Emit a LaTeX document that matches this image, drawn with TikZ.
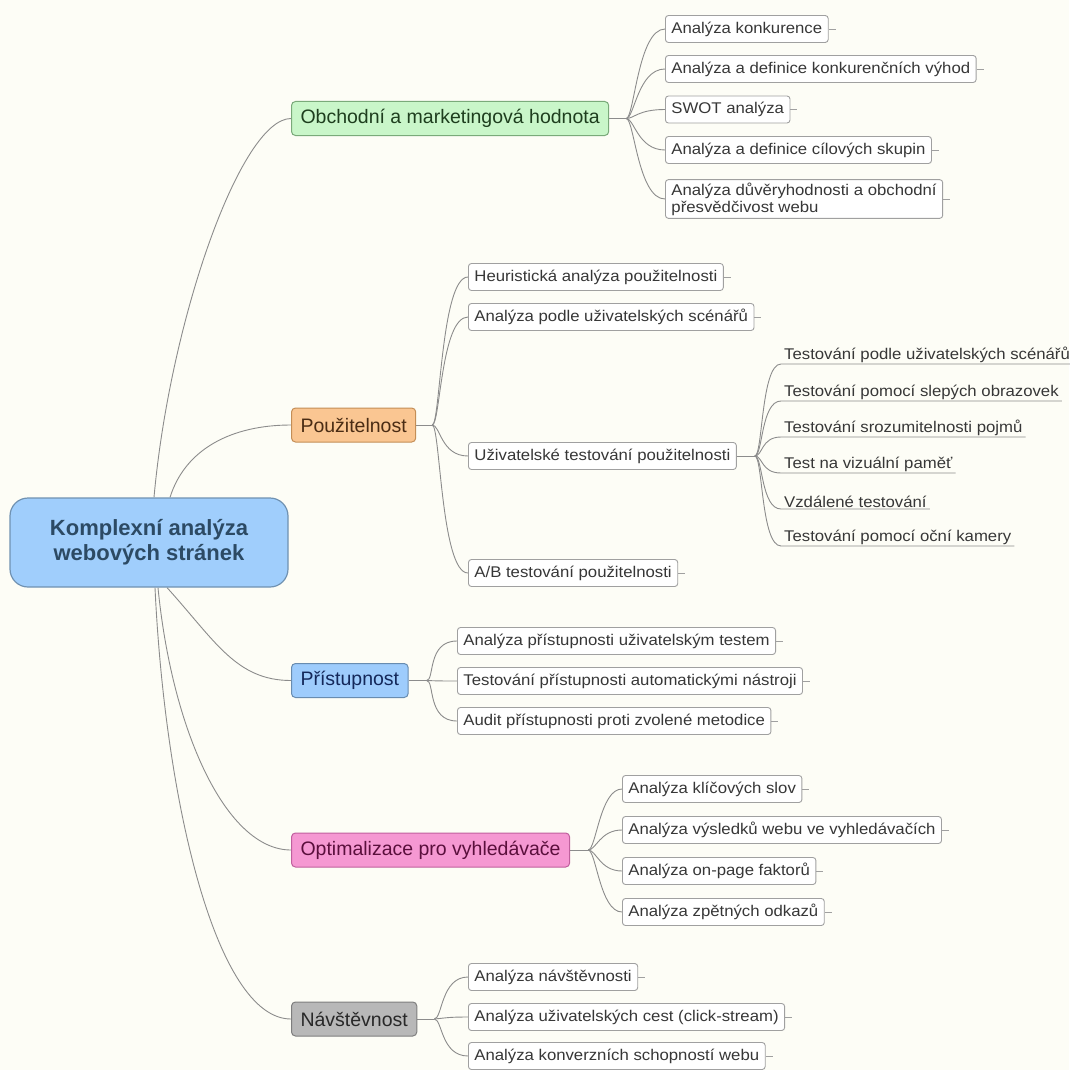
\documentclass[tikz,border=0pt]{standalone}
\usepackage{fontspec}
\setmainfont{Liberation Sans}
\newfontfamily\leaffont{Liberation Sans}[FakeStretch=1.08]
\usetikzlibrary{positioning}
\pgfdeclarelayer{background}
\pgfsetlayers{background,main}

\definecolor{paper}{RGB}{253,253,246}
\definecolor{linegray}{RGB}{140,140,140}
\definecolor{leafline}{RGB}{160,160,160}
\definecolor{leaftext}{RGB}{55,55,55}
\definecolor{rootfill}{RGB}{160,206,252}
\definecolor{rootline}{RGB}{112,146,178}
\definecolor{roottext}{RGB}{44,74,100}
\definecolor{greenfill}{RGB}{201,246,201}
\definecolor{greenline}{RGB}{122,170,122}
\definecolor{greentext}{RGB}{30,62,30}
\definecolor{orangefill}{RGB}{250,198,146}
\definecolor{orangeline}{RGB}{196,142,86}
\definecolor{orangetext}{RGB}{74,44,20}
\definecolor{bluefill}{RGB}{158,204,252}
\definecolor{blueline}{RGB}{104,140,176}
\definecolor{bluetext}{RGB}{20,40,90}
\definecolor{pinkfill}{RGB}{245,152,210}
\definecolor{pinkline}{RGB}{192,96,158}
\definecolor{pinktext}{RGB}{90,15,60}
\definecolor{grayfill}{RGB}{184,184,184}
\definecolor{grayline}{RGB}{126,126,126}
\definecolor{graytext}{RGB}{40,40,40}

\tikzset{
  link/.style={draw=linegray, line width=0.9pt},
  rootbox/.style={draw=rootline, fill=rootfill, text=roottext, line width=1.2pt,
    rounded corners=18pt, align=center, minimum width=278pt, minimum height=89pt,
    font=\fontsize{22}{25}\selectfont\bfseries},
  topic/.style={anchor=west, line width=1pt, rounded corners=4pt,
    minimum height=34pt, inner xsep=9pt, font=\fontsize{19.5}{22}\selectfont},
  leaf/.style={anchor=west, draw=leafline, fill=white, text=leaftext, line width=0.9pt,
    rounded corners=3pt, minimum height=27pt, inner xsep=6pt, inner ysep=3pt,
    align=left, font=\leaffont\fontsize{15.5}{17}\selectfont},
  subleaf/.style={anchor=south west, text=leaftext, inner xsep=3pt, inner ysep=1pt,
    font=\leaffont\fontsize{15.5}{17}\selectfont}
}

\begin{document}
\begin{tikzpicture}[x=1pt,y=-1pt]
  \useasboundingbox (0,0) rectangle (1069,1070);

  \node (root) at (149,542.5) [rootbox] {Komplexní analýza\\webových stránek};

  \node (obch) at (291,118.5) [topic,draw=greenline,fill=greenfill,text=greentext] {Obchodní a marketingová hodnota};
  \node (pouz) at (291,425) [topic,draw=orangeline,fill=orangefill,text=orangetext] {Použitelnost};
  \node (prist) at (291,680.5) [topic,draw=blueline,fill=bluefill,text=bluetext] {Přístupnost};
  \node (optim) at (291,850) [topic,draw=pinkline,fill=pinkfill,text=pinktext] {Optimalizace pro vyhledávače};
  \node (navst) at (291,1019) [topic,draw=grayline,fill=grayfill,text=graytext] {Návštěvnost};

  \node (obch1) at (665,29) [leaf] {Analýza konkurence};
  \node (obch2) at (665,69) [leaf] {Analýza a definice konkurenčních výhod};
  \node (obch3) at (665,109.5) [leaf] {SWOT analýza};
  \node (obch4) at (665,150) [leaf] {Analýza a definice cílových skupin};
  \node (obch5) at (665,199) [leaf] {Analýza důvěryhodnosti a obchodní\\přesvědčivost webu};

  \node (pouz1) at (468,277) [leaf] {Heuristická analýza použitelnosti};
  \node (pouz2) at (468,317) [leaf] {Analýza podle uživatelských scénářů};
  \node (pouz3) at (468,456) [leaf] {Uživatelské testování použitelnosti};
  \node (pouz4) at (468,573) [leaf] {A/B testování použitelnosti};

  \node (test1) at (781,364) [subleaf] {Testování podle uživatelských scénářů};
  \node (test2) at (781,401) [subleaf] {Testování pomocí slepých obrazovek};
  \node (test3) at (781,437) [subleaf] {Testování srozumitelnosti pojmů};
  \node (test4) at (781,473) [subleaf] {Test na vizuální paměť};
  \node (test5) at (781,509) [subleaf] {Vzdálené testování};
  \node (test6) at (781,546) [subleaf] {Testování pomocí oční kamery};

  \node (prist1) at (457,641) [leaf] {Analýza přístupnosti uživatelským testem};
  \node (prist2) at (457,681) [leaf] {Testování přístupnosti automatickými nástroji};
  \node (prist3) at (457,721) [leaf] {Audit přístupnosti proti zvolené metodice};

  \node (optim1) at (622,789) [leaf] {Analýza klíčových slov};
  \node (optim2) at (622,830) [leaf] {Analýza výsledků webu ve vyhledávačích};
  \node (optim3) at (622,871) [leaf] {Analýza on-page faktorů};
  \node (optim4) at (622,912) [leaf] {Analýza zpětných odkazů};

  \node (navst1) at (468,977) [leaf] {Analýza návštěvnosti};
  \node (navst2) at (468,1017) [leaf] {Analýza uživatelských cest (click-stream)};
  \node (navst3) at (468,1056) [leaf] {Analýza konverzních schopností webu};

  \coordinate (rt1) at ([xshift=5pt]root.north);
  \coordinate (rt2) at ([xshift=21pt]root.north);
  \coordinate (rb1) at ([xshift=18pt]root.south);
  \coordinate (rb2) at ([xshift=9pt]root.south);
  \coordinate (rb3) at ([xshift=6pt]root.south);

  \coordinate (obchF) at ([xshift=17pt]obch.east);
  \coordinate (pouzF) at ([xshift=16pt]pouz.east);
  \coordinate (testF) at ([xshift=18pt]pouz3.east);
  \coordinate (pristF) at ([xshift=18pt]prist.east);
  \coordinate (optimF) at ([xshift=18pt]optim.east);
  \coordinate (navstF) at ([xshift=17pt]navst.east);

  \begin{pgfonlayer}{background}
    \fill[paper] (0,0) rectangle (1069,1070);

    \draw[link] (rt1) .. controls +(16,-178) and +(-50,0) .. (obch.west);
    \draw[link] (rt2) .. controls +(15,-48) and +(-60,0) .. (pouz.west);
    \draw[link] (rb1) .. controls +(48,53) and +(-55,0) .. (prist.west);
    \draw[link] (rb2) .. controls +(14,143) and +(-65,0) .. (optim.west);
    \draw[link] (rb3) .. controls +(10,213) and +(-75,0) .. (navst.west);

    \draw[link] (obch.east) -- (obchF);
    \draw[link] (pouz.east) -- (pouzF);
    \draw[link] (pouz3.east) -- (testF);
    \draw[link] (prist.east) -- (pristF);
    \draw[link] (optim.east) -- (optimF);
    \draw[link] (navst.east) -- (navstF);

    \foreach \n in {obch1,obch2,obch3,obch4,obch5}
      \draw[link] (obchF) .. controls +(8,0) and +(-27,0) .. (\n.west);
    \foreach \n in {pouz1,pouz2,pouz3,pouz4}
      \draw[link] (pouzF) .. controls +(8,0) and +(-27,0) .. (\n.west);
    \foreach \n in {prist1,prist2,prist3}
      \draw[link] (pristF) .. controls +(8,0) and +(-30,0) .. (\n.west);
    \foreach \n in {optim1,optim2,optim3,optim4}
      \draw[link] (optimF) .. controls +(8,0) and +(-22,0) .. (\n.west);
    \foreach \n in {navst1,navst2,navst3}
      \draw[link] (navstF) .. controls +(8,0) and +(-27,0) .. (\n.west);
    \foreach \n in {test1,test2,test3,test4,test5,test6}
      \draw[link] (testF) .. controls +(8,0) and +(-20,0) .. (\n.south west) -- (\n.south east);
  \end{pgfonlayer}

  \foreach \n in {obch1,obch2,obch3,obch4,obch5,pouz1,pouz2,pouz4,prist1,prist2,prist3,optim1,optim2,optim3,optim4,navst1,navst2,navst3}
    \draw[link,draw=leafline] (\n.east) -- ++(7,0);
\end{tikzpicture}
\end{document}
